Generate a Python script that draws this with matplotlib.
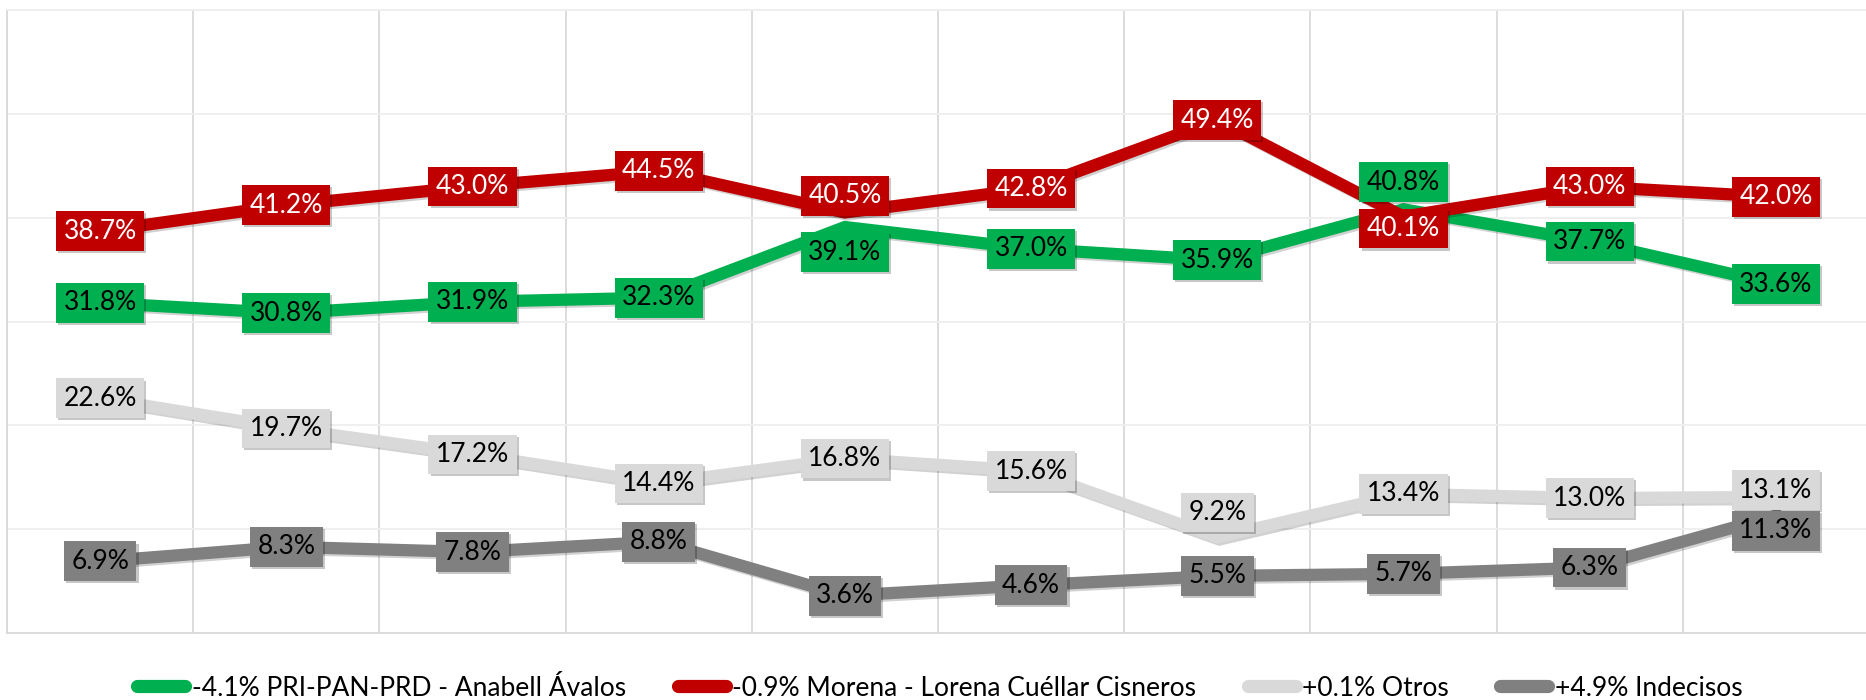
import matplotlib
matplotlib.use("Agg")
import matplotlib.pyplot as plt
import matplotlib.patheffects as pe
from matplotlib.lines import Line2D

plt.rcParams['font.family'] = ['Lato', 'DejaVu Sans']

# ---- data ----
rondas = list(range(1, 11))
pri_pan_prd = [31.8, 30.8, 31.9, 32.3, 39.1, 37.0, 35.9, 40.8, 37.7, 33.6]
morena = [38.7, 41.2, 43.0, 44.5, 40.5, 42.8, 49.4, 40.1, 43.0, 42.0]
otros = [22.6, 19.7, 17.2, 14.4, 16.8, 15.6, 9.2, 13.4, 13.0, 13.1]
indecisos = [6.9, 8.3, 7.8, 8.8, 3.6, 4.6, 5.5, 5.7, 6.3, 11.3]
series_names = ["-4.1% PRI-PAN-PRD - Anabell Ávalos",
                "-0.9% Morena - Lorena Cuéllar Cisneros",
                "+0.1% Otros",
                "+4.9% Indecisos"]

# ---- styles ----
colors = ["#00B050", "#C00000", "#D9D9D9", "#808080"]
text_colors = ["black", "white", "black", "black"]
# manual label offsets (points) per series: {index: dy}
label_offsets = [{4: -18, 7: 19.5}, {4: 12, 7: -8.6}, {6: 18, 9: 5}, {9: -11}]

W, H, DPI = 1866, 700, 100
fig = plt.figure(figsize=(W / DPI, H / DPI), dpi=DPI)
ax = fig.add_axes([7 / W, (H - 633) / H, 1862 / W, 623 / H])

x = list(range(len(rondas)))
data = [pri_pan_prd, morena, otros, indecisos]

ax.set_xlim(-0.5, len(rondas) - 0.5)
ax.set_ylim(0, 60)
ax.set_yticks(range(0, 61, 10))
ax.set_xticks([i - 0.5 for i in range(len(rondas) + 1)])
ax.tick_params(left=False, bottom=False, labelleft=False, labelbottom=False)
ax.grid(axis='x', color='#D9D9D9', lw=1.3)
ax.grid(axis='y', color='#EEEEEE', lw=1.3)
ax.set_axisbelow(True)
for s in ['top', 'right']:
    ax.spines[s].set_color('#EEEEEE')
for s in ['left', 'bottom']:
    ax.spines[s].set_color('#D9D9D9')
for s in ax.spines.values():
    s.set_linewidth(1.3)

shadow = [pe.SimpleLineShadow(offset=(1.5, -1.5), shadow_color='k', alpha=0.18), pe.Normal()]
for vals, c in zip(data, colors):
    ax.plot(x, vals, color=c, lw=8.8, solid_joinstyle='miter', zorder=3, path_effects=shadow)

z = 5
for vals, c, tc, offs in zip(data, colors, text_colors, label_offsets):
    for i, v in enumerate(vals):
        dy = offs.get(i, 0)
        t = ax.annotate(f"{v:.1f}%", (i, v), xytext=(0, dy), textcoords='offset points',
                        ha='center', va='center', fontsize=19, color=tc, zorder=z,
                        bbox=dict(boxstyle='square,pad=0.28', fc=c, ec='none'))
        t.get_bbox_patch().set_path_effects([pe.withSimplePatchShadow(offset=(1.5, -1.5), shadow_rgbFace='k', alpha=0.22)])
    z += 1

handles = [Line2D([0], [0], color=c, lw=9.5, solid_capstyle='round') for c in colors]
fig.legend(handles, series_names, loc='center', bbox_to_anchor=(940 / W, 1 - 688 / H),
           ncol=4, frameon=False, fontsize=19, handlelength=1.82, handletextpad=0.25,
           columnspacing=1.95, borderpad=0, borderaxespad=0)

fig.savefig("out.png", dpi=DPI)
